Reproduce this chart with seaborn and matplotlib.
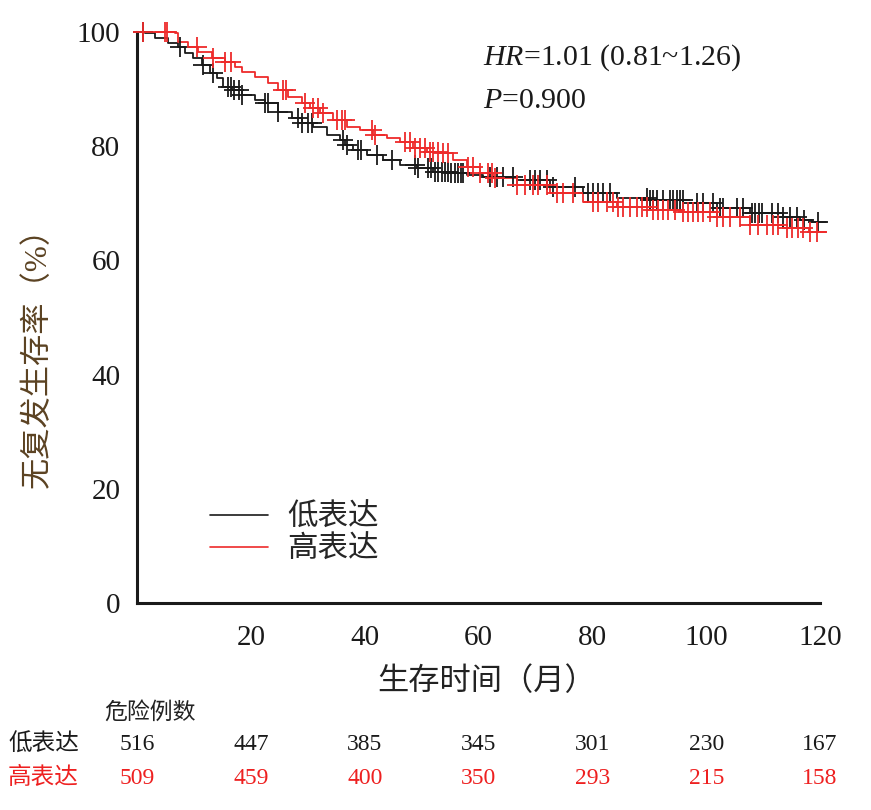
import numpy as np
import pandas as pd
import seaborn as sns
import matplotlib.pyplot as plt
import matplotlib.transforms as mtransforms
from matplotlib.lines import Line2D

sns.set_style('white')
plt.rcParams['font.family'] = ['Liberation Serif', 'Noto Sans CJK SC']
plt.rcParams['mathtext.fontset'] = 'custom'
plt.rcParams['mathtext.rm'] = 'Liberation Serif'
plt.rcParams['mathtext.it'] = 'Liberation Serif:italic'

# data
groups = ['低表达', '高表达']
colors = {'低表达': '#1a1a1a', '高表达': '#ee2b2b'}

low_t = [0, 1.4, 3.2, 5.4, 7.2, 8.4, 9.8, 11.4, 12.8, 14.1, 15.1, 16.7, 18.5, 20.7, 22.5, 24.8,
         27.2, 29.0, 30.9, 33.4, 35.7, 36.6, 38.0, 40.4, 43.2, 46.2, 49.2, 52.0, 55.0, 58.0, 60.8,
         66.8, 72.6, 78.4, 84.4, 90.2, 96.0, 101.9, 107.7, 113.5, 116.5, 118.5, 121]
low_s = [100, 99.8, 98.9, 98.1, 97.4, 96.3, 95.4, 94.2, 92.9, 91.9, 90.4, 89.8, 89.0, 88.1, 87.6, 86.0,
         84.9, 84.1, 83.4, 82.0, 81.1, 80.2, 79.3, 78.5, 77.6, 76.7, 76.2, 75.5, 75.3, 75.0, 74.6,
         74.1, 72.9, 71.8, 70.9, 70.6, 70.0, 69.2, 68.3, 67.6, 67.1, 66.7, 66.7]

high_t = [0, 6.7, 7.2, 9.0, 10.7, 13.2, 15.5, 17.2, 18.5, 20.7, 23.0, 24.8, 26.5, 29.0, 30.4, 32.2,
          34.4, 36.9, 39.2, 41.5, 43.9, 46.2, 48.5, 51.0, 53.3, 55.5, 58.0, 60.3, 62.6, 66.8, 72.6,
          78.4, 84.4, 90.2, 96.0, 101.9, 107.7, 113.5, 118.0, 121]
high_s = [100, 99.8, 98.2, 97.4, 96.5, 95.4, 94.7, 93.9, 93.0, 92.1, 91.1, 89.8, 88.6, 87.6, 86.7, 85.8,
          84.6, 83.4, 82.8, 82.0, 81.4, 80.7, 79.7, 79.0, 78.8, 77.6, 76.4, 75.3, 74.4, 73.2, 71.8,
          70.2, 69.4, 68.8, 68.5, 67.6, 66.2, 65.7, 65.0, 65.0]

low_cens = [1.0, 7.5, 11.6, 13.4, 16.0, 16.5, 17.0, 17.9, 18.5, 22.5, 23.0, 24.8, 28.3, 29.0, 30.0,
            30.7, 36.2, 36.9, 38.8, 39.4, 42.2, 44.8, 48.9, 49.4, 51.1, 51.7, 52.3, 52.9, 53.5, 54.1,
            54.6, 55.2, 55.8, 56.4, 57.0, 57.3, 62.1, 63.3, 64.3, 66.1, 69.1, 70.0, 70.8, 72.1, 73.1,
            77.0, 79.3, 80.1, 81.0, 81.9, 83.1, 89.6, 90.2, 90.7, 91.4, 92.4, 93.7, 94.2, 94.9, 95.4,
            95.9, 98.4, 99.5, 101.2, 102.5, 103.0, 105.4, 106.5, 108.1, 108.6, 109.2, 109.8, 111.6,
            112.7, 113.5, 114.8, 116.0, 117.1, 119.7]
high_cens = [1.0, 4.9, 5.3, 10.5, 13.4, 15.5, 16.6, 25.7, 26.2, 29.5, 30.9, 31.8, 32.7, 35.1, 36.0,
             36.6, 41.3, 41.8, 47.1, 48.0, 48.9, 49.7, 50.6, 51.5, 52.0, 52.9, 53.8, 54.7, 58.2, 59.1,
             60.3, 61.7, 62.4, 62.9, 66.8, 68.2, 69.6, 70.5, 72.1, 73.8, 74.9, 76.6, 80.1, 81.0, 82.6,
             83.7, 84.5, 85.4, 86.6, 87.9, 88.8, 89.6, 90.7, 91.6, 92.4, 93.3, 94.6, 96.0, 96.8, 97.7,
             98.6, 99.5, 100.7, 101.9, 103.0, 104.2, 106.0, 107.7, 109.1, 110.7, 111.7, 112.6, 114.2,
             115.1, 116.2, 117.0, 118.3, 119.5]

risk_times = [0, 20, 40, 60, 80, 100, 120]
low_risk = [516, 447, 385, 345, 301, 230, 167]
high_risk = [509, 459, 400, 350, 293, 215, 158]


def step_at(t, s, c):
    idx = np.searchsorted(t, c, side='right') - 1
    return np.asarray(s)[idx]


curves = pd.concat([
    pd.DataFrame({'time': low_t, 'surv': low_s, 'group': groups[0]}),
    pd.DataFrame({'time': high_t, 'surv': high_s, 'group': groups[1]}),
])
marks = pd.concat([
    pd.DataFrame({'time': low_cens, 'surv': step_at(low_t, low_s, low_cens), 'group': groups[0]}),
    pd.DataFrame({'time': high_cens, 'surv': step_at(high_t, high_s, high_cens), 'group': groups[1]}),
])

fig = plt.figure(figsize=(8.71, 8.10), dpi=100)
ax = fig.add_axes([0.1573, 0.2556, 0.7842, 0.7049])

for g in groups:
    sns.lineplot(data=curves[curves.group == g], x='time', y='surv', color=colors[g],
                 drawstyle='steps-post', estimator=None, sort=False, linewidth=1.3,
                 ax=ax, clip_on=False, legend=False)
    sns.scatterplot(data=marks[marks.group == g], x='time', y='surv', color=colors[g],
                    marker='+', s=190, linewidth=1.3, ax=ax, legend=False, clip_on=False, zorder=3)

ax.set_xlim(0, 120)
ax.set_ylim(0, 100)
ax.set_xticks([20, 40, 60, 80, 100, 120])
ax.set_yticks([0, 20, 40, 60, 80, 100])
ax.tick_params(direction='in', length=8, width=2, labelsize=21, pad=12, colors='#1a1a1a')
ax.tick_params(axis='x', pad=16)
for side in ['top', 'right']:
    ax.spines[side].set_visible(False)
for side in ['left', 'bottom']:
    ax.spines[side].set_linewidth(2.2)
    ax.spines[side].set_color('#1a1a1a')

ax.set_xlabel('生存时间（月）', fontsize=22.5, color='#222222')
ax.set_ylabel('无复发生存率（%）', fontsize=22.5, color='#5b4222')
ax.xaxis.set_label_coords(0.512, -0.113)
ax.yaxis.set_label_coords(-0.124, 0.443)

ax.text(0.506, 0.955, r'$\it{HR}$=1.01 (0.81~1.26)', transform=ax.transAxes, fontsize=21.5,
        va='center', ha='left', color='#1a1a1a')
ax.text(0.506, 0.88, r'$\it{P}$=0.900', transform=ax.transAxes, fontsize=21.5,
        va='center', ha='left', color='#1a1a1a')

handles = [Line2D([], [], color=colors[g], linewidth=1.2) for g in groups]
ax.legend(handles, groups, loc='upper left', bbox_to_anchor=(0.085, 0.2), frameon=False,
          fontsize=22, handlelength=1.9, handletextpad=0.62, labelspacing=0.1, borderpad=0)

# number at risk table
trans = mtransforms.blended_transform_factory(ax.transData, fig.transFigure)
fig.text(104 / 871, 1 - 713 / 810, '危险例数', fontsize=16.5, va='center', ha='left', color='#222222')
fig.text(8 / 871, 1 - 745 / 810, '低表达', fontsize=17, va='center', ha='left', color='#1a1a1a')
fig.text(8 / 871, 1 - 778 / 810, '高表达', fontsize=17, va='center', ha='left', color='#ee2020')
for t, n1, n2 in zip(risk_times, low_risk, high_risk):
    ax.text(t, 1 - 745 / 810, str(n1), transform=trans, fontsize=17, ha='center', va='center',
            color='#1a1a1a', clip_on=False)
    ax.text(t, 1 - 778 / 810, str(n2), transform=trans, fontsize=17, ha='center', va='center',
            color='#ee2020', clip_on=False)

fig.savefig('out.png', dpi=100)
